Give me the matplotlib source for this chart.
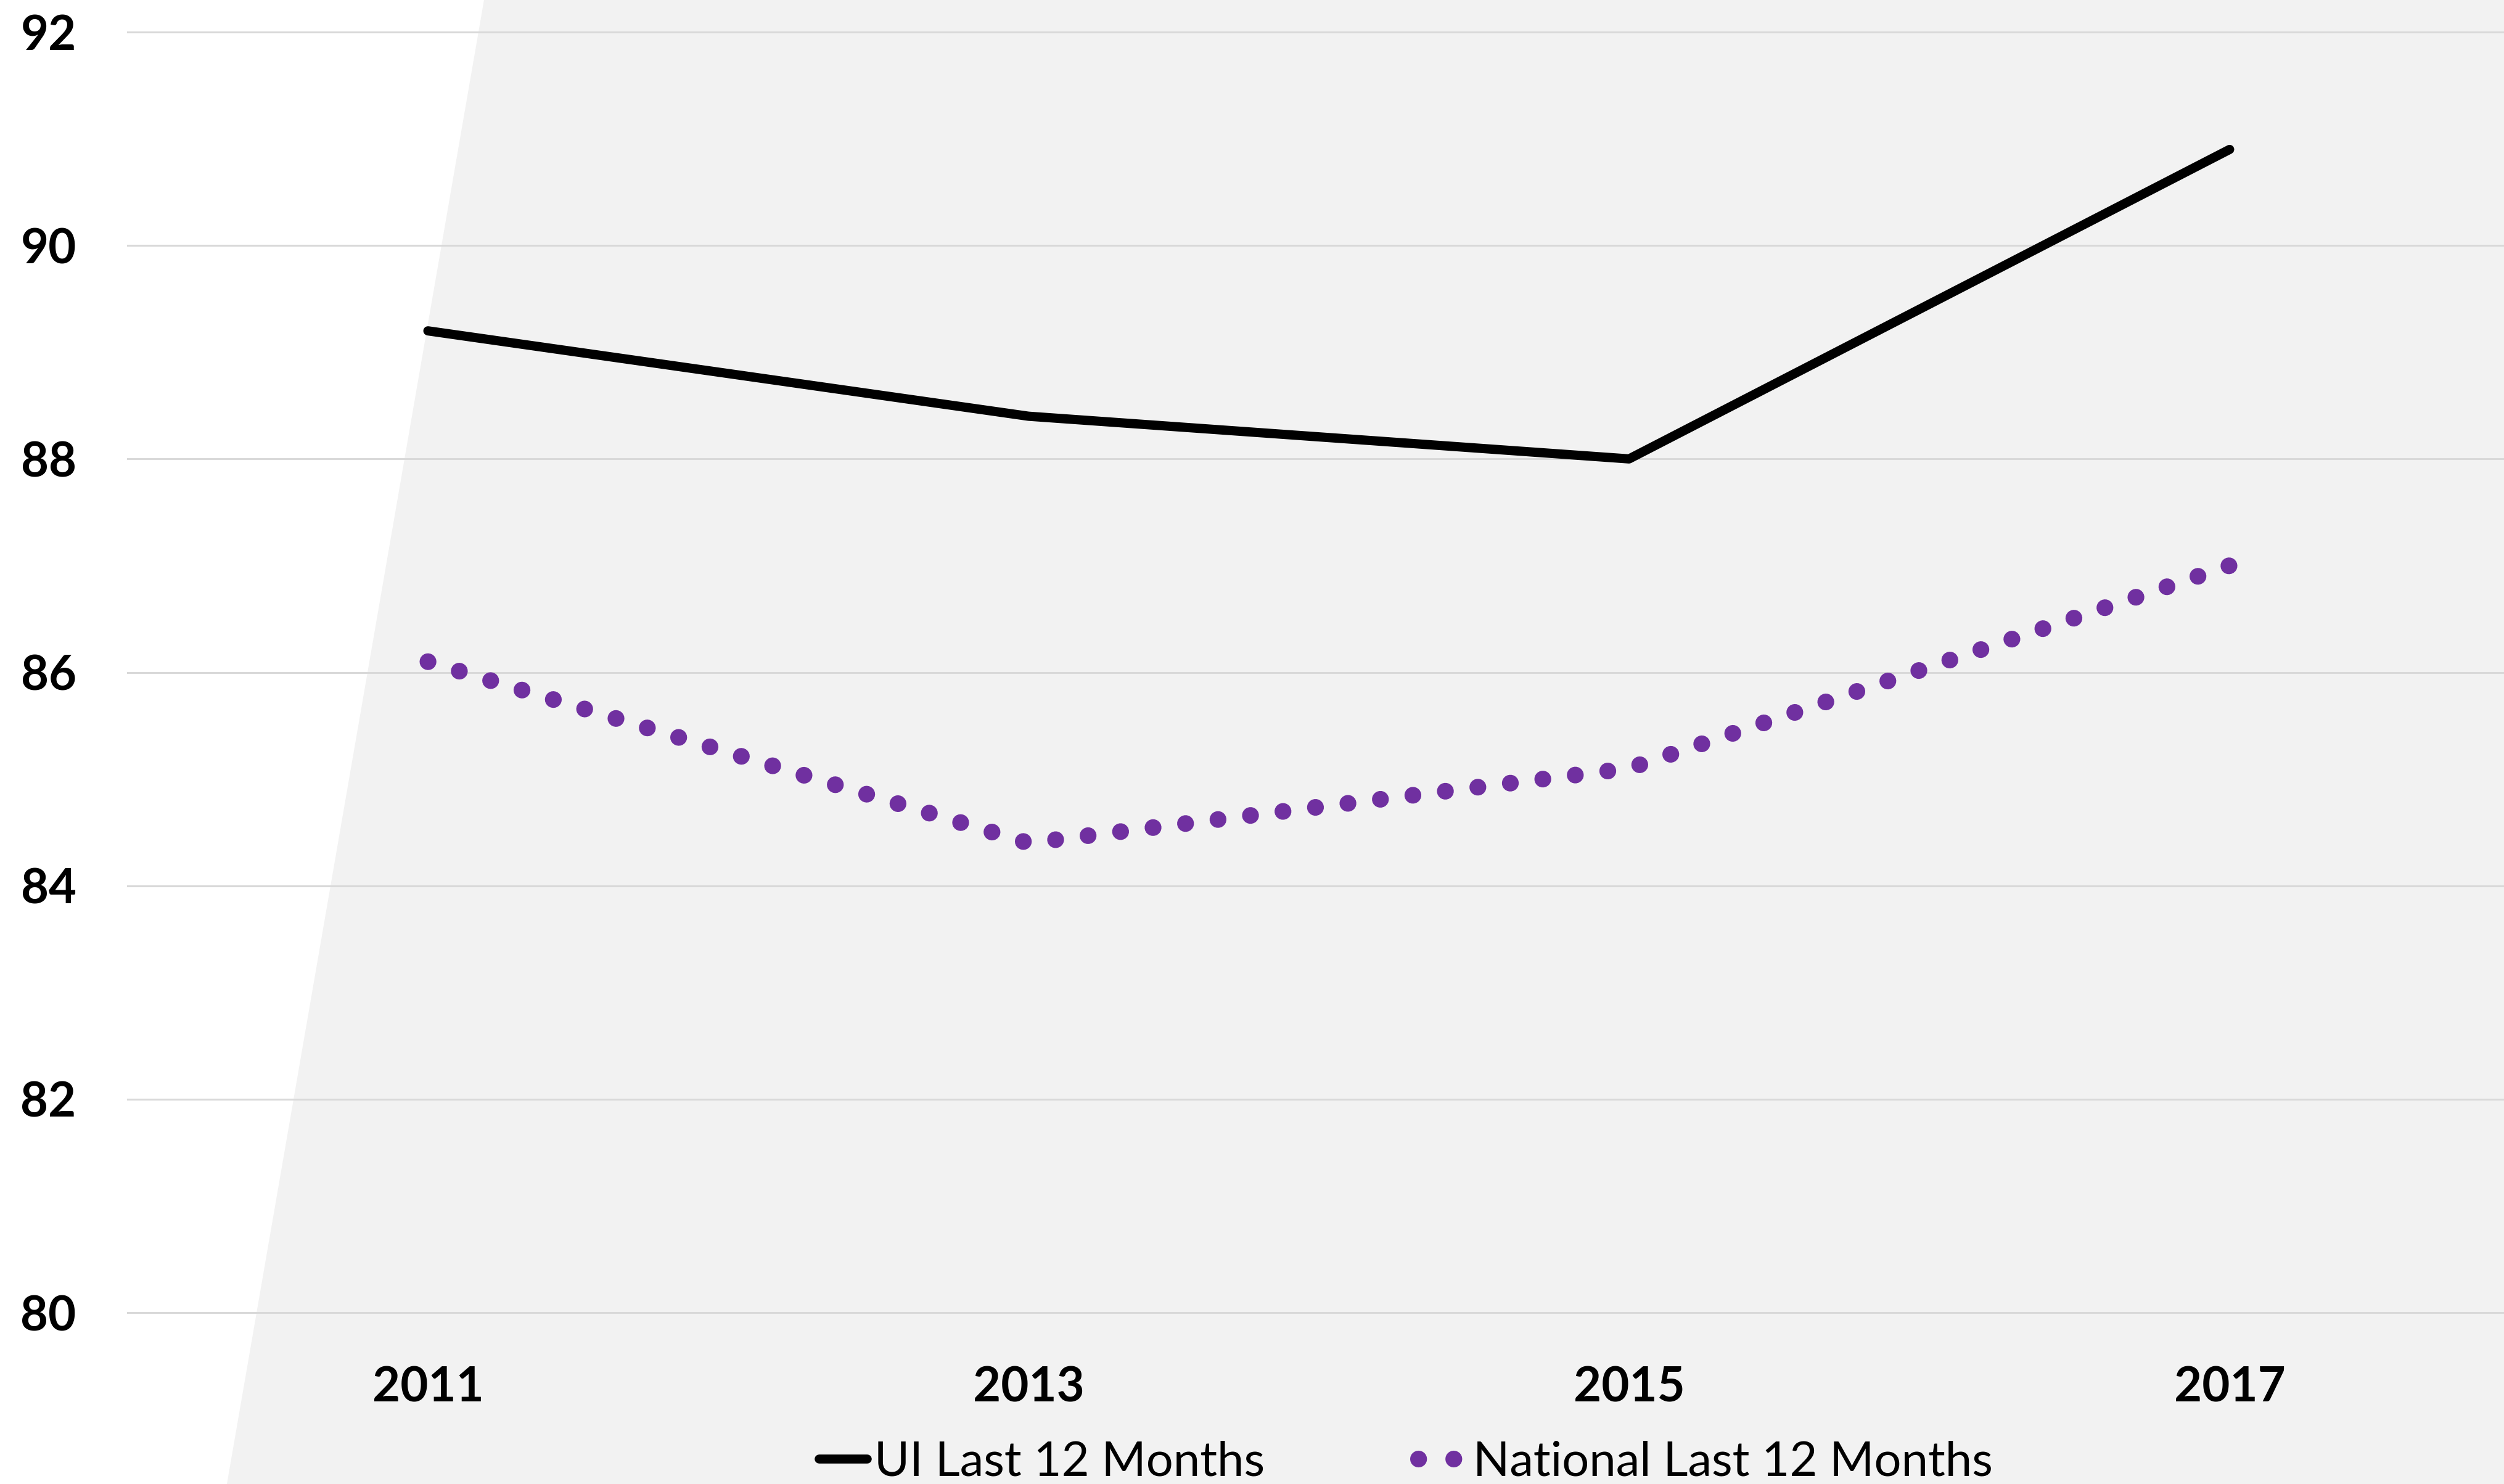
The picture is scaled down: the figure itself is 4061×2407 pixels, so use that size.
import numpy as np
import matplotlib

matplotlib.use("Agg")
import matplotlib.pyplot as plt
from matplotlib.lines import Line2D
from matplotlib.patches import Polygon

# values
years = ["2011", "2013", "2015", "2017"]
ui_last12 = [89.2, 88.4, 88.0, 90.9]
national_last12 = [86.1, 84.4, 85.1, 87.0]
y_ticks = [80, 82, 84, 86, 88, 90, 92]
series_labels = ["UI Last 12 Months", "National Last 12 Months"]

PURPLE = "#7030A0"
GRAY_BG = "#F2F2F2"
GRID = "#D9D9D9"
DOTS = (0, (0.01, 1.95))

W, H = 4062, 2407

plt.rcParams["font.family"] = ["Lato", "DejaVu Sans"]

fig = plt.figure(figsize=(W / 100, H / 100), dpi=100)
fig.patch.set_facecolor("white")
# slanted grey backdrop behind the plot
fig.patches.append(
    Polygon(
        [(785 / W, 1), (368 / W, 0), (1, 0), (1, 1)],
        closed=True,
        transform=fig.transFigure,
        facecolor=GRAY_BG,
        edgecolor="none",
        zorder=-10,
    )
)

ax = fig.add_axes([207 / W, (H - 2129) / H, (W - 207) / W, (2129 - 52) / H])
ax.set_zorder(1)
ax.set_facecolor("none")
for s in ax.spines.values():
    s.set_visible(False)

x = np.arange(len(years))
ax.plot(x, ui_last12, color="black", lw=10.8, solid_capstyle="round", zorder=3)
ax.plot(
    x,
    national_last12,
    color=PURPLE,
    lw=19.5,
    linestyle=DOTS,
    dash_capstyle="round",
    zorder=3,
)

ax.set_xlim(-0.5, -0.5 + (W - 207) / 974)
ax.set_ylim(80, 92)
ax.set_yticks(y_ticks)
ax.set_xticks(x, years)
ax.grid(axis="y", color=GRID, lw=2.2)
ax.set_axisbelow(True)
for gl in ax.get_ygridlines():
    gl.set_clip_on(False)
ax.tick_params(axis="y", length=0, pad=60, labelsize=56)
ax.tick_params(axis="x", length=0, pad=62, labelsize=56)
for lab in ax.get_xticklabels() + ax.get_yticklabels():
    lab.set_fontweight("bold")

handles = [
    Line2D([], [], color="black", lw=10.5, solid_capstyle="round"),
    Line2D([], [], color=PURPLE, lw=19.5, linestyle=(0, (0.01, 2.1)), dash_capstyle="round"),
]
fig.legend(
    handles,
    series_labels,
    loc="center",
    bbox_to_anchor=(2280 / W, 35 / H),
    ncol=2,
    frameon=False,
    fontsize=56,
    handlelength=1.0,
    handletextpad=0.15,
    columnspacing=3.2,
    borderpad=0,
)

fig.savefig("out.png", dpi=100)
